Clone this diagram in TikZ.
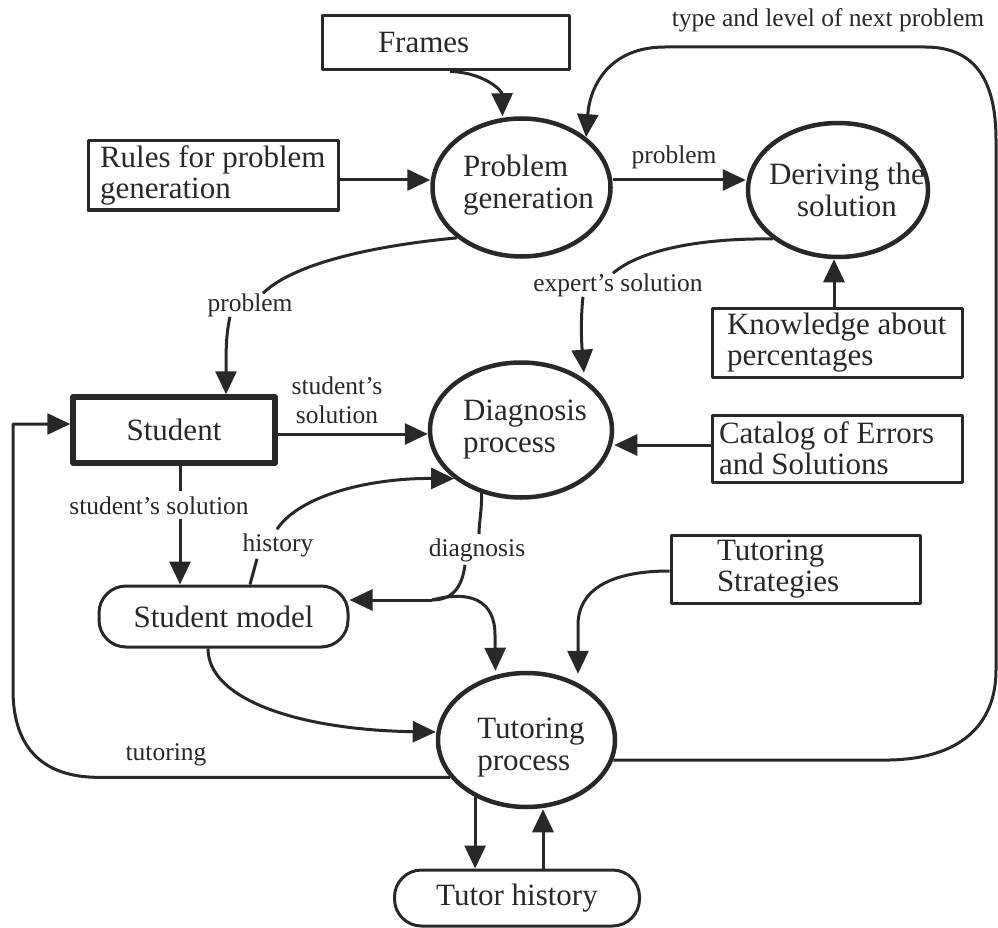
\documentclass[tikz,border=0pt]{standalone}
\usepackage{fontspec}
\setmainfont{Liberation Serif}
\usetikzlibrary{arrows.meta,shapes.geometric}
\definecolor{ink}{RGB}{40,40,40}
\begin{document}
\begin{tikzpicture}[x=1pt,y=-1pt,line join=round,
  mainfont/.style={font=\fontsize{31}{31}\selectfont},
  lab/.style={font=\fontsize{25.5}{29}\selectfont, inner sep=0, text=ink, align=center},
  proc/.style={ellipse, draw=ink, line width=4.5pt, inner sep=0},
  ptext/.style={font=\fontsize{31}{32}\selectfont, align=flush left, inner sep=0, text=ink},
  store/.style={rectangle, draw=ink, line width=3pt, inner sep=0, align=flush left, mainfont, text=ink},
  rstore/.style={rectangle, rounded corners=27pt, draw=ink, line width=3pt, inner sep=0, mainfont, text=ink},
  conn/.style={draw=ink, line width=3pt, -{Triangle[length=23pt,width=21pt]}},
  plain/.style={draw=ink, line width=3pt},
]
\useasboundingbox (0,0) rectangle (998,928);

% processes (ellipses)
\node[proc, minimum width=178pt, minimum height=138pt,
  label={[ptext, xshift=7pt, yshift=2pt]center:{Problem\\generation}}] (pg) at (521.5,187.5) {};
\node[proc, minimum width=180pt, minimum height=134pt,
  label={[ptext, align=center, xshift=9pt]center:{Deriving the\\solution}}] (ds) at (838,190) {};
\node[proc, minimum width=182pt, minimum height=135pt,
  label={[ptext, xshift=4pt]center:{Diagnosis\\process}}] (dp) at (521,430) {};
\node[proc, minimum width=177pt, minimum height=134pt,
  label={[ptext, xshift=4.5pt, yshift=-8pt]center:{Tutoring\\process}}] (tp) at (526.5,740) {};

% stores (boxes)
\node[store, text width=247pt, minimum height=54pt] (frames) at (445.5,43) {\hspace*{56pt}Frames};
\node[store, text width=250pt, minimum height=69pt] (rules) at (213,175.5) {\hspace*{12pt}Rules for problem\\\hspace*{12pt}generation};
\node[store, text width=250pt, minimum height=69pt] (know) at (837,342.5) {\hspace*{15pt}Knowledge about\\\hspace*{15pt}percentages};
\node[store, text width=250pt, minimum height=67pt] (cat) at (837,448.5) {\hspace*{7pt}Catalog of Errors\\\hspace*{7pt}and Solutions};
\node[store, text width=249pt, minimum height=68pt] (strat) at (795.5,569) {\hspace*{46pt}Tutoring\\\hspace*{46pt}Strategies};
\node[store, line width=5.5pt, minimum width=202pt, minimum height=66pt] (student) at (174,430) {Student};
\node[rstore, minimum width=249pt, minimum height=61pt] (smodel) at (223.5,616.5) {Student model};
\node[rstore, minimum width=245pt, minimum height=56pt] (thist) at (517,898) {Tutor history};

% labels
\node[lab] (lprobA) at (674,157) {problem};
\node[lab] (ltype) at (828,20) {type and level of next problem};
\node[lab] (lexp) at (618,285) {expert's solution};
\node[lab] (lprobB) at (250,305) {problem};
\node[lab] (lss1) at (337,400) {student's\\solution};
\node[lab] (lss2) at (159,506) {student's solution};
\node[lab] (lhist) at (278,545) {history};
\node[lab] (ldiag) at (477,550) {diagnosis};
\node[lab] (ltut) at (166,755) {tutoring};

% connectors
\draw[conn] ([xshift=4.5pt]frames.south) .. controls (482,72) and (502,90) .. ([xshift=-19pt]pg.north);
\draw[conn] ([yshift=-4.5pt]rules.east) -- ([yshift=-4.5pt]rules.east -| pg.west);
\draw[conn] ([yshift=7.5pt]pg.east) -- ([yshift=7.5pt]pg.east -| ds.west);

\draw[conn] (tp.347) -- (tp.347 -| 885,0) .. controls (960,760) and (996,725) .. (996,670)
  -- (996,140) .. controls (996,80) and (975,47) .. (925,47) -- (665,47)
  .. controls (610,47) and (590,85) .. (pg.north east);

\draw[plain] (ds.south west) .. controls (700,238) and (640,250) .. ([xshift=-5pt]lexp.north);
\draw[conn] ([xshift=-35pt]lexp.south) .. controls (581,315) and (581,335) .. ([xshift=-3pt,yshift=8pt]dp.north east);

\draw[conn] ([xshift=-3pt]know.north) -- ([xshift=-3pt]know.north |- ds.south);

\draw[plain] (pg.south west) .. controls (380,245) and (295,262) .. ([xshift=13pt]lprobB.north);
\draw[conn] ([xshift=-20pt]lprobB.south) .. controls (226,335) and (226,350) .. ([xshift=52pt]student.north);

\draw[conn] ([yshift=-4pt]student.east) -- ([yshift=-4pt]student.east -| dp.west);
\draw[conn] ([yshift=3.5pt]cat.west) -- ([yshift=3.5pt]cat.west -| dp.east);

\draw[plain] ([xshift=6pt]student.south) -- ([xshift=21pt,yshift=6pt]lss2.north);
\draw[conn] ([xshift=21pt,yshift=-4pt]lss2.south) -- ([xshift=-43.5pt]smodel.north);

\draw[plain] ([xshift=26.5pt]smodel.north) -- ([xshift=-21pt,yshift=-2pt]lhist.south);
\draw[conn] ([xshift=-1pt,yshift=4pt]lhist.north) .. controls (300,495) and (370,478) .. (dp.216);

\coordinate (junc) at (432,600);
\draw[plain] (dp.238) .. controls (482,510) and (479,522) .. ([xshift=2pt,yshift=4pt]ldiag.north);
\draw[plain] ([xshift=-12pt,yshift=-3pt]ldiag.south) .. controls (462,588) and (452,600) .. (junc);
\draw[conn] (junc) -- (junc -| smodel.east);
\draw[conn] (junc) .. controls (470,590) and (495,600) .. (495,635) -- ([xshift=-31pt]tp.north);

\draw[conn] ([xshift=-15.5pt]smodel.south) .. controls (208,700) and (300,730) .. ([yshift=8pt]tp.west);

\draw[conn] (tp.206) -- (tp.206 -| 95,0) .. controls (40,776) and (13,745) .. (13,690)
  -- (13,424) -- (student.west |- 0,424);

\draw[conn] (tp.228) -- (tp.228 |- thist.north);
\draw[conn] ([xshift=26pt]thist.north) -- ([xshift=26pt]thist.north |- tp.south);

\draw[conn] ([yshift=-2pt]strat.west) .. controls (610,571) and (578,590) .. (578,625) -- ([xshift=51.5pt,yshift=-3pt]tp.north);
\end{tikzpicture}
\end{document}
